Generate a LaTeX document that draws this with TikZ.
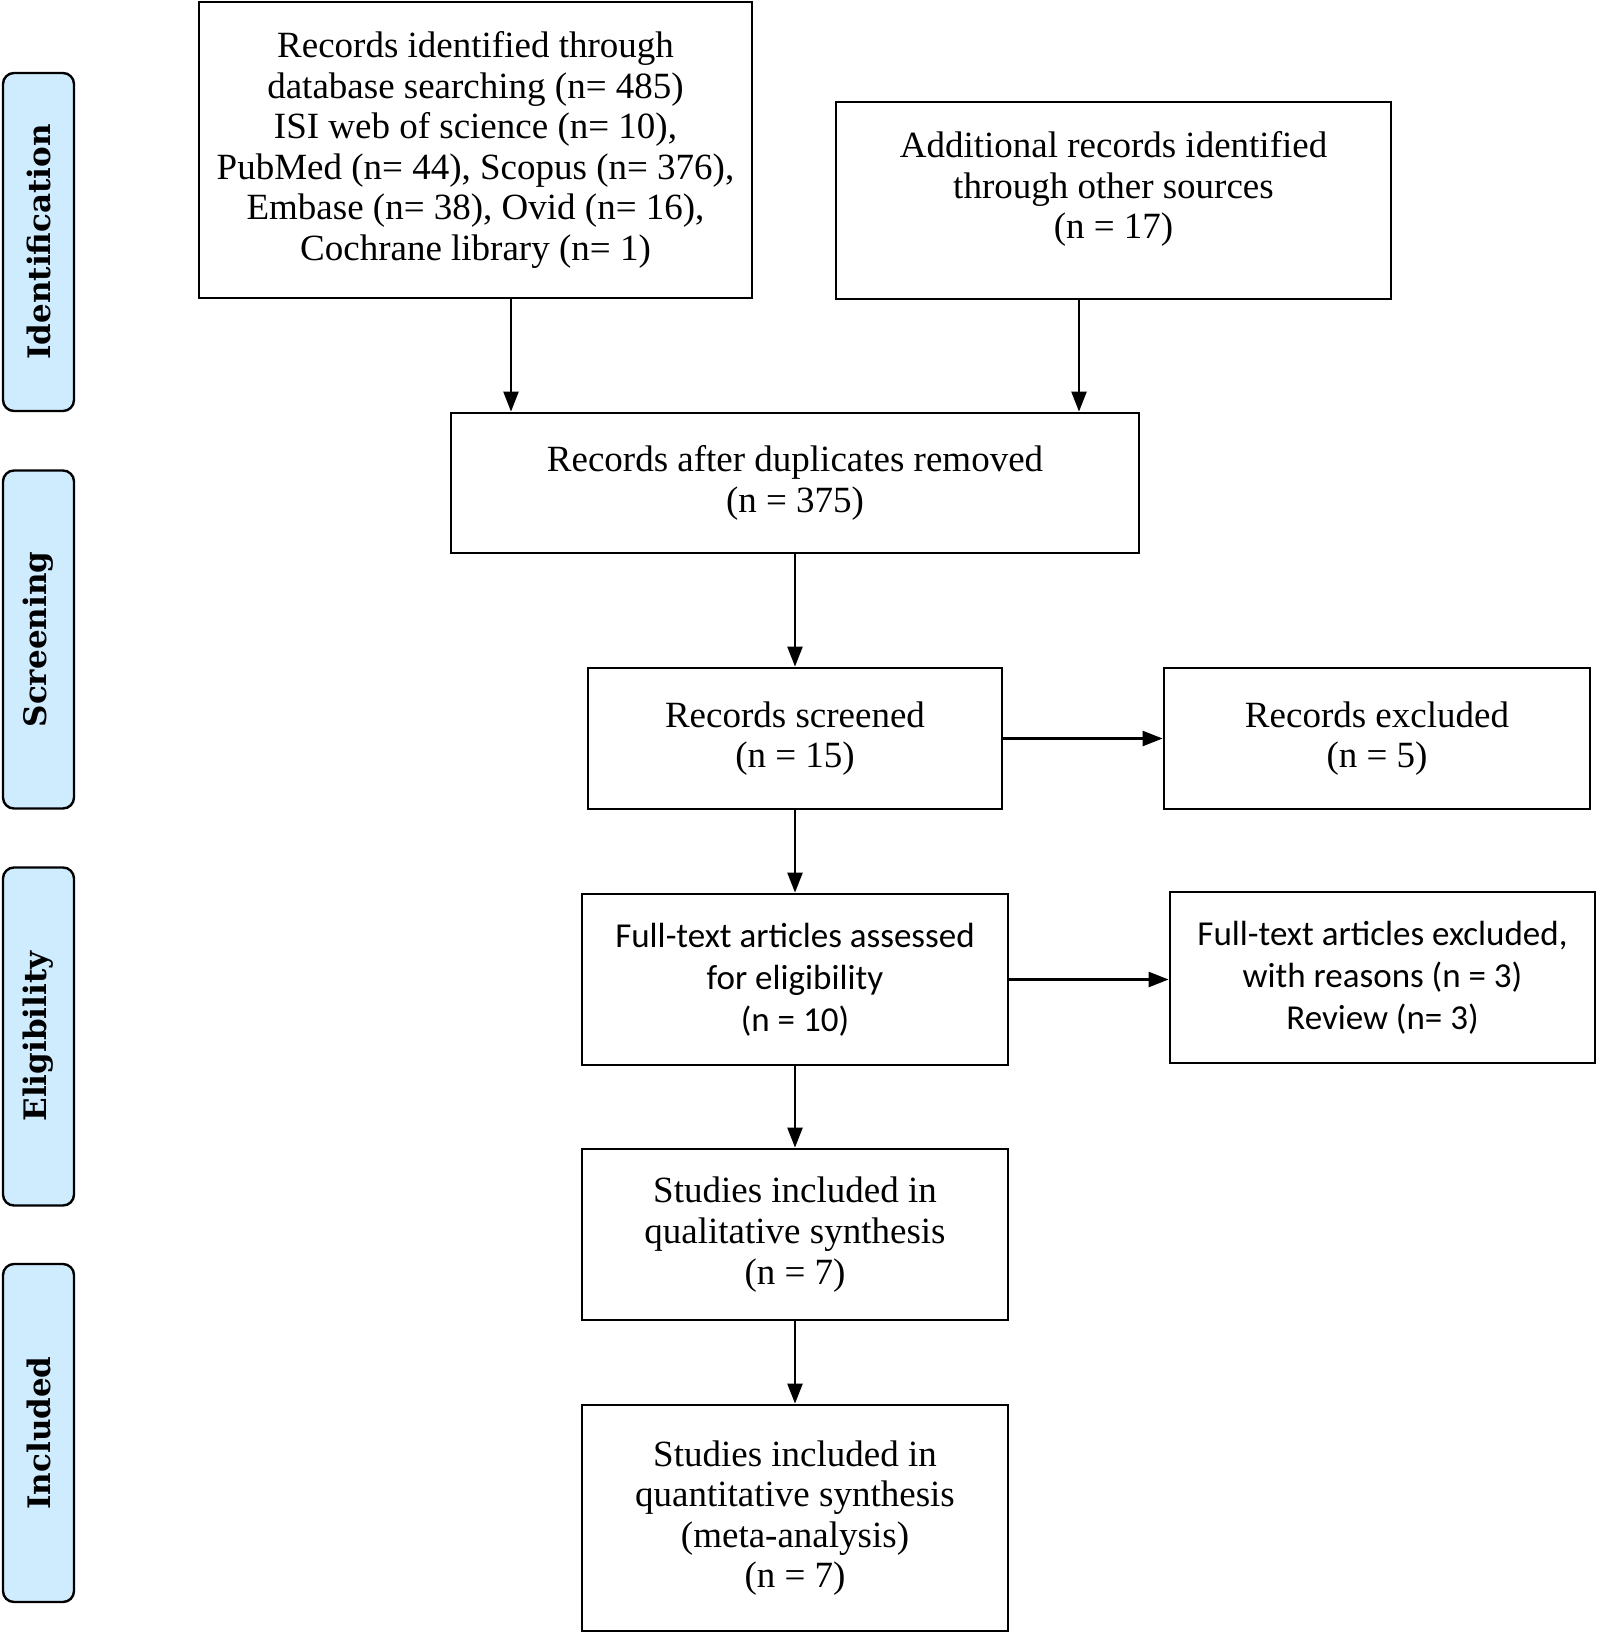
\documentclass[tikz,border=0pt]{standalone}
\usepackage{fontspec}
\setmainfont{Liberation Serif}
\newfontfamily\sbody{Carlito}
\newfontfamily\sidefont{DejaVu Serif}
\usetikzlibrary{arrows.meta}
\definecolor{sidefill}{HTML}{CFECFF}
\tikzset{
  box/.style={draw=black, line width=2.8pt, align=center, inner sep=0pt,
    font=\fontsize{37}{40.6}\selectfont},
  sbox/.style={box, font=\sbody\fontsize{35}{42}\selectfont},
  side/.style={draw=black, line width=2.4pt, fill=sidefill, rounded corners=11pt,
    minimum width=71pt, minimum height=338pt, inner sep=0pt},
  sidetext/.style={rotate=90, font=\sidefont\bfseries\fontsize{31}{34}\selectfont},
  arr/.style={line width=2.4pt, -{Triangle[length=20pt,width=15pt]}}
}
\begin{document}
\begin{tikzpicture}[x=1pt,y=-1pt]
\useasboundingbox (0,0) rectangle (1597,1633);
% side bars
\node[side] (s1) at (38.5,242) {};
\node[sidetext] (t1) at (s1.center) {Identification};
\node[side] (s2) at (38.5,639.5) {};
\node[sidetext] (t2) at (s2.center) {Screening};
\node[side] (s3) at (38.5,1036.5) {};
\node[sidetext] (t3) at (s3.center) {Eligibility};
\node[side] (s4) at (38.5,1433) {};
\node[sidetext] (t4) at (s4.center) {Included};
% boxes
\node[box, minimum width=553pt, minimum height=296pt] (A) at (475.5,150) {Records identified through\\database searching (n= 485)\\ISI web of science (n= 10),\\PubMed (n= 44), Scopus (n= 376),\\Embase (n= 38), Ovid (n= 16),\\Cochrane library (n= 1)};
\node[box, minimum width=555pt, minimum height=197pt] (B) at (1113.5,200.5) {Additional records identified\\through other sources\\(n = 17)\\[-10pt]\mbox{}};
\node[box, minimum width=688pt, minimum height=140pt] (C) at (795,483) {Records after duplicates removed\\(n = 375)};
\node[box, minimum width=414pt, minimum height=141pt] (D) at (795,738.5) {Records screened\\(n = 15)};
\node[box, minimum width=426pt, minimum height=141pt] (E) at (1377,738.5) {Records excluded\\(n = 5)};
\node[sbox, minimum width=426pt, minimum height=171pt] (F) at (795,979.5) {Full-text articles assessed\\for eligibility\\(n = 10)};
\node[sbox, minimum width=425pt, minimum height=171pt] (G) at (1382.5,977.5) {Full-text articles excluded,\\with reasons (n = 3)\\Review (n= 3)};
\node[box, minimum width=426pt, minimum height=171pt] (H) at (795,1234.5) {Studies included in\\qualitative synthesis\\(n = 7)};
\node[box, minimum width=426pt, minimum height=226pt] (I) at (795,1518) {Studies included in\\quantitative synthesis\\(meta-analysis)\\(n = 7)};
% connectors
\draw[arr] ([xshift=35.5pt]A.south) -- ([xshift=35.5pt]A.south |- C.north);
\draw[arr] ([xshift=-34.5pt]B.south) -- ([xshift=-34.5pt]B.south |- C.north);
\draw[arr] (C.south) -- (D.north);
\draw[arr] (D.east) -- (E.west);
\draw[arr] (D.south) -- (F.north);
\draw[arr] (F.east) -- (F.east -| G.west);
\draw[arr] (F.south) -- (H.north);
\draw[arr] (H.south) -- (I.north);
\end{tikzpicture}
\end{document}
